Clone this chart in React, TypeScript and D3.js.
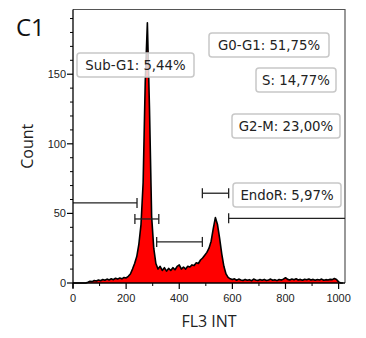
import React from "react";
import * as d3 from "d3";

// ---- data ----
const channelStep = 8;
const counts: number[] = [
  0, 0, 0, 0, 0, 0, 0, 0.5, 1.2, 1.0,
  1.8, 1.4, 2.2, 1.6, 2.5, 2.0, 2.8, 2.2, 3.0, 2.4,
  3.4, 2.8, 3.6, 3.0, 4.0, 3.6, 4.8, 6.5, 10, 14,
  19, 28, 42, 72, 145, 187, 125, 48, 25, 14,
  10, 12, 9, 11, 8.5, 10.5, 9, 11, 9.5, 12,
  13, 10, 11.5, 10, 12, 11.5, 13, 12.5, 14.5, 14,
  16.5, 18, 20, 22, 25, 30, 39, 47, 42, 32,
  21, 12, 6.5, 4, 3, 2.5, 3, 2, 2.8, 2.2,
  1.8, 2.6, 2, 2.4, 1.6, 2.8, 2.2, 1.8, 2.5, 2,
  2.6, 1.8, 2.2, 2.8, 2, 2.4, 1.7, 2.5, 2.1, 2.8,
  3.8, 2.6, 2.2, 2.9, 2.4, 3.0, 2.2, 2.6, 2.0, 2.7,
  2.3, 2.9, 2.1, 2.6, 2.0, 2.5, 2.2, 2.8, 2.0, 2.4,
  2.2, 2.6, 2.4, 3.2, 2.5, 0.8, 0, 0,
];
const channels = counts.map((_, i) => i * channelStep);

const xTicks = [0, 200, 400, 600, 800, 1000];
const xMinorTicks = [100, 300, 500, 700, 900];
const yTicks = [0, 50, 100, 150];
const yMinorTicks = [10, 20, 30, 40, 60, 70, 80, 90, 110, 120, 130, 140, 160, 170, 180, 190];

// gates: [start, end, level]
const gateNames = ["Sub-G1", "G0-G1", "S", "G2-M", "EndoR"];
const gateStarts = [0, 233, 315, 487, 586];
const gateEnds = [241, 323, 487, 586, 1024];
const gateLevels = [57.5, 46, 29.5, 64.5, 46.5];
const gateLeftCap = [false, true, true, true, true];
const gateRightCap = [true, true, true, true, false];

const labelTexts = ["Sub-G1: 5,44%", "G0-G1: 51,75%", "S: 14,77%", "G2-M: 23,00%", "EndoR: 5,97%"];
// label box layout (pixels): x, y, w, h
const labelBoxes = [
  [77, 53, 117, 24],
  [209, 33, 120, 24],
  [256, 68, 80, 24],
  [232, 114, 108, 24],
  [233, 183, 108, 24],
];

export default function App() {
  const W = 366, H = 338;
  const left = 73, right = 345, top = 9.5, bottom = 283;
  const x = d3.scaleLinear().domain([0, 1024]).range([left, right]);
  const y = d3.scaleLinear().domain([0, 196.5]).range([bottom, top]);

  const pts = channels.map((c, i) => [c, counts[i]] as [number, number]);
  const area = d3.area<[number, number]>().x(d => x(d[0])).y0(y(0)).y1(d => y(d[1]));
  const line = d3.line<[number, number]>().x(d => x(d[0])).y(d => y(d[1]));

  const tickFont = "Liberation Sans, Arial, sans-serif";
  const labelFont = "DejaVu Sans, Verdana, sans-serif";
  const ink = "#222";

  return (
    <svg width={W} height={H} style={{ position: "absolute", left: 0, top: 0, background: "#fff" }}>
      <rect x={0} y={0} width={W} height={H} fill="#fff" />
      {/* frame */}
      <path d={`M${left},${top}H${right}V${bottom}`} fill="none" stroke="#555" strokeWidth={1.2} />
      {/* histogram */}
      <path d={area(pts) || ""} fill="#ff0000" />
      <path d={line(pts) || ""} fill="none" stroke="#000" strokeWidth={1.6} strokeLinejoin="round" />
      {/* gates */}
      {gateNames.map((n, i) => {
        const x0 = x(gateStarts[i]), x1 = x(gateEnds[i]), yy = y(gateLevels[i]);
        return (
          <g key={n} stroke="#222" strokeWidth={1.3}>
            <line x1={x0} x2={x1} y1={yy} y2={yy} />
            {gateLeftCap[i] && <line x1={x0} x2={x0} y1={yy - 5} y2={yy + 5} />}
            {gateRightCap[i] && <line x1={x1} x2={x1} y1={yy - 5} y2={yy + 5} />}
          </g>
        );
      })}
      {/* labels */}
      {labelTexts.map((t, i) => {
        const [bx, by, bw, bh] = labelBoxes[i];
        return (
          <g key={t}>
            <rect x={bx} y={by} width={bw} height={bh} rx={3} fill="#fff" fillOpacity={0.8} stroke="#c8c8c8" strokeWidth={1.5} />
            <text x={bx + bw / 2} y={by + bh / 2} dy="0.36em" textAnchor="middle" fontFamily={labelFont} fontSize={13.3} fill={ink}>{t}</text>
          </g>
        );
      })}
      {/* axes */}
      <line x1={left} x2={right} y1={bottom} y2={bottom} stroke="#000" strokeWidth={1.3} />
      <line x1={left} x2={left} y1={top} y2={bottom + 5} stroke="#000" strokeWidth={1.3} />
      {xTicks.map(t => (
        <g key={"xt" + t}>
          <line x1={x(t)} x2={x(t)} y1={bottom} y2={bottom + 6} stroke="#000" strokeWidth={1.2} />
          <text x={x(t)} y={302} textAnchor="middle" fontFamily={tickFont} fontSize={11} fill={ink}>{t}</text>
        </g>
      ))}
      {xMinorTicks.map(t => (
        <line key={"xm" + t} x1={x(t)} x2={x(t)} y1={bottom} y2={bottom + 3} stroke="#000" strokeWidth={1} />
      ))}
      {yTicks.map(t => (
        <g key={"yt" + t}>
          <line x1={left - 6} x2={left} y1={y(t)} y2={y(t)} stroke="#000" strokeWidth={1.2} />
          <text x={left - 7} y={y(t)} dy="0.35em" textAnchor="end" fontFamily={tickFont} fontSize={11} fill={ink}>{t}</text>
        </g>
      ))}
      {yMinorTicks.map(t => (
        <line key={"ym" + t} x1={left - 3} x2={left} y1={y(t)} y2={y(t)} stroke="#000" strokeWidth={1} />
      ))}
      <text transform={`translate(33,${(top + bottom) / 2}) rotate(-90)`} textAnchor="middle" fontFamily="Open Sans, sans-serif" fontSize={16} fill={ink}>Count</text>
      <text x={(left + right) / 2} y={327} textAnchor="middle" fontFamily="Open Sans, sans-serif" fontSize={16} fill={ink}>FL3 INT</text>
      <text x={16} y={36} fontFamily="Open Sans, sans-serif" fontSize={24} fill="#111">C1</text>
    </svg>
  );
}
